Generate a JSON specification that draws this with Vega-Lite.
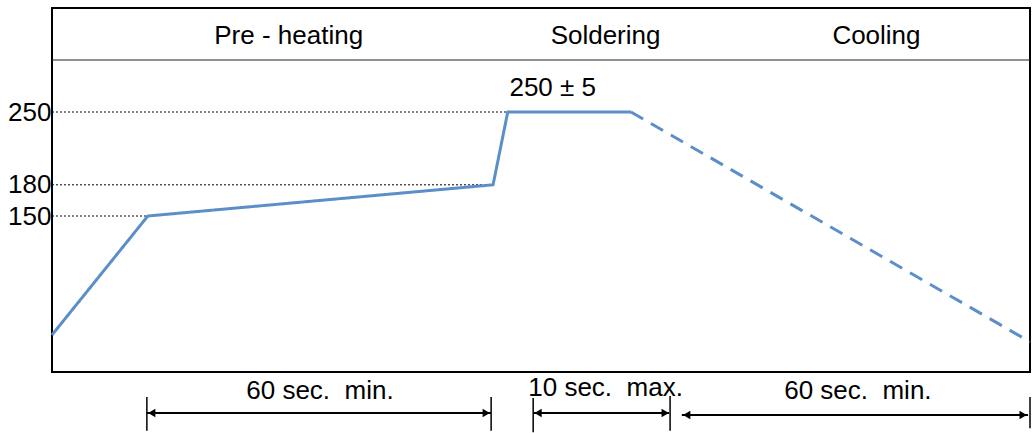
{
  "$schema": "https://vega.github.io/schema/vega-lite/v6.json",
  "width": 978,
  "height": 364,
  "autosize": {"type": "none"},
  "padding": {"left": 52, "top": 8, "right": 4, "bottom": 61},
  "background": "white",
  "datasets": {
    "profile": [
      {"t": 0, "temp": 35.6, "seg": "solid"},
      {"t": 9.8, "temp": 150, "seg": "solid"},
      {"t": 45.1, "temp": 180, "seg": "solid"},
      {"t": 46.6, "temp": 250, "seg": "solid"},
      {"t": 59.2, "temp": 250, "seg": "solid"},
      {"t": 59.2, "temp": 250, "seg": "dashed"},
      {"t": 100, "temp": 29, "seg": "dashed"}
    ],
    "guides": [
      {"t0": 0, "t1": 46.6, "temp": 250},
      {"t0": 0, "t1": 45.1, "temp": 180},
      {"t0": 0, "t1": 9.8, "temp": 150}
    ],
    "labels": [
      {"label": "Pre - heating", "t": 24.2, "temp": 323},
      {"label": "Soldering", "t": 56.6, "temp": 323},
      {"label": "Cooling", "t": 84.3, "temp": 323},
      {"label": "250 ± 5", "t": 51.2, "temp": 273},
      {"label": "60 sec.\u00a0 min.", "t": 27.4, "temp": -18.5},
      {"label": "10 sec.\u00a0 max.", "t": 56.6, "temp": -15},
      {"label": "60 sec.\u00a0 min.", "t": 82.4, "temp": -18.5}
    ],
    "spans": [
      {"from": 9.7, "to": 44.9, "temp": -39.4},
      {"from": 49.2, "to": 63.1, "temp": -39.4},
      {"from": 64.4, "to": 99.8, "temp": -41.3}
    ],
    "ticks": [
      {"t": 9.7, "lo": -56.5, "hi": -24},
      {"t": 44.9, "lo": -56.5, "hi": -24},
      {"t": 49.2, "lo": -58, "hi": -25},
      {"t": 63.2, "lo": -56.5, "hi": -23},
      {"t": 100, "lo": -54, "hi": -24}
    ],
    "heads": [
      {"t": 10.2, "temp": -39.4, "dir": "left"},
      {"t": 44.4, "temp": -39.4, "dir": "right"},
      {"t": 49.7, "temp": -39.4, "dir": "left"},
      {"t": 62.7, "temp": -39.4, "dir": "right"},
      {"t": 64.9, "temp": -41.3, "dir": "left"},
      {"t": 99.3, "temp": -41.3, "dir": "right"}
    ],
    "header": [
      {"t0": 0, "t1": 100, "temp": 300}
    ]
  },
  "layer": [
    {
      "data": {"name": "guides"},
      "mark": {"type": "rule", "color": "black", "strokeWidth": 1, "strokeDash": [2, 2]},
      "encoding": {
        "x": {"field": "t0", "type": "quantitative", "scale": {"domain": [0, 100], "nice": false, "zero": false}, "axis": null},
        "x2": {"field": "t1"},
        "y": {
          "field": "temp",
          "type": "quantitative",
          "scale": {"domain": [0, 350], "nice": false, "zero": false},
          "axis": {
            "values": [150, 180, 250],
            "title": null,
            "grid": false,
            "ticks": false,
            "domain": false,
            "labelFont": "Liberation Sans",
            "labelFontSize": 26,
            "labelColor": "black",
            "labelPadding": 1
          }
        }
      }
    },
    {
      "data": {"name": "header"},
      "mark": {"type": "rule", "color": "#222222", "strokeWidth": 1.2},
      "encoding": {
        "x": {"field": "t0", "type": "quantitative"},
        "x2": {"field": "t1"},
        "y": {"field": "temp", "type": "quantitative"}
      }
    },
    {
      "data": {"name": "profile"},
      "mark": {"type": "line", "color": "#5B8FCA", "strokeWidth": 3},
      "encoding": {
        "x": {"field": "t", "type": "quantitative"},
        "y": {"field": "temp", "type": "quantitative"},
        "detail": {"field": "seg"},
        "strokeDash": {
          "field": "seg",
          "type": "nominal",
          "scale": {"domain": ["solid", "dashed"], "range": [[1, 0], [14, 9]]},
          "legend": null
        }
      }
    },
    {
      "data": {"name": "spans"},
      "mark": {"type": "rule", "color": "black", "strokeWidth": 2},
      "encoding": {
        "x": {"field": "from", "type": "quantitative"},
        "x2": {"field": "to"},
        "y": {"field": "temp", "type": "quantitative"}
      }
    },
    {
      "data": {"name": "ticks"},
      "mark": {"type": "rule", "color": "black", "strokeWidth": 1.5},
      "encoding": {
        "x": {"field": "t", "type": "quantitative"},
        "y": {"field": "lo", "type": "quantitative"},
        "y2": {"field": "hi"}
      }
    },
    {
      "data": {"name": "heads"},
      "transform": [{"filter": "datum.dir == 'left'"}],
      "mark": {"type": "point", "shape": "triangle-left", "filled": true, "color": "black", "opacity": 1, "size": 70},
      "encoding": {
        "x": {"field": "t", "type": "quantitative"},
        "y": {"field": "temp", "type": "quantitative"}
      }
    },
    {
      "data": {"name": "heads"},
      "transform": [{"filter": "datum.dir == 'right'"}],
      "mark": {"type": "point", "shape": "triangle-right", "filled": true, "color": "black", "opacity": 1, "size": 70},
      "encoding": {
        "x": {"field": "t", "type": "quantitative"},
        "y": {"field": "temp", "type": "quantitative"}
      }
    },
    {
      "data": {"name": "labels"},
      "mark": {"type": "text", "font": "Liberation Sans", "fontSize": 26, "color": "black", "align": "center", "baseline": "middle"},
      "encoding": {
        "x": {"field": "t", "type": "quantitative"},
        "y": {"field": "temp", "type": "quantitative"},
        "text": {"field": "label"}
      }
    }
  ],
  "config": {
    "view": {"stroke": "black", "strokeWidth": 2}
  }
}
